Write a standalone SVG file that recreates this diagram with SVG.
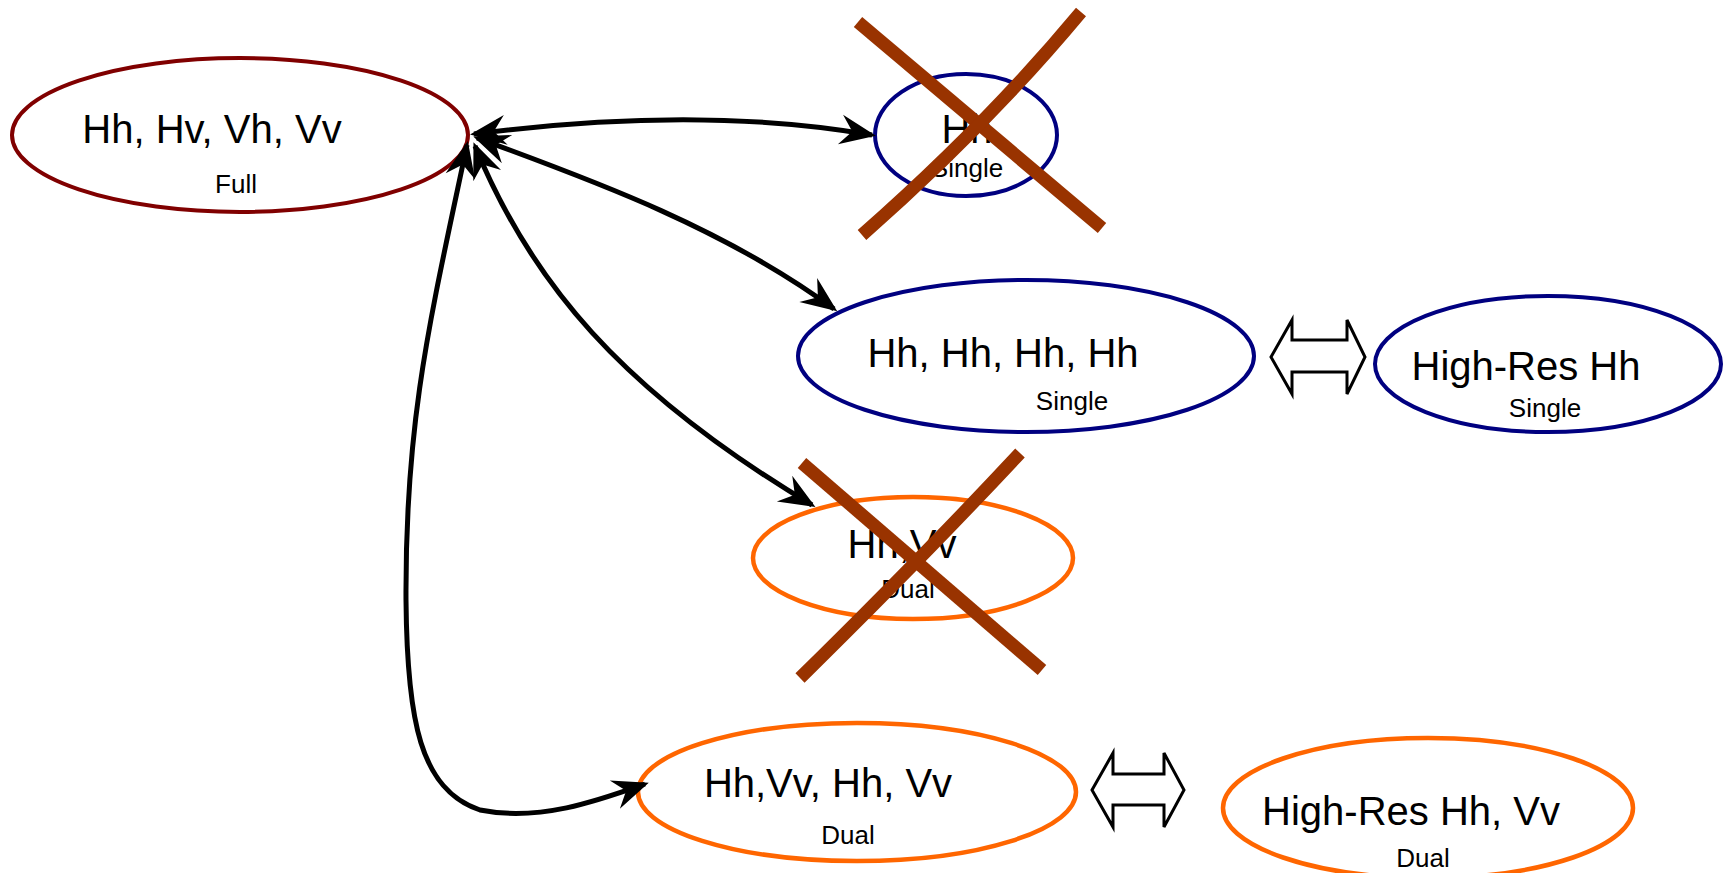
<svg xmlns="http://www.w3.org/2000/svg" width="1724" height="873" viewBox="0 0 1724 873">
<style>
  .node { fill: #ffffff; stroke-width: 4; }
  .full { stroke: #800000; }
  .single { stroke: #000080; }
  .dual { stroke: #FF6600; stroke-width: 4.5; }
  .main { font-family: "Liberation Sans", Arial, sans-serif; font-size: 40px; fill: #000; text-anchor: middle; }
  .sub { font-family: "Liberation Sans", Arial, sans-serif; font-size: 26px; fill: #000; text-anchor: middle; }
  .conn { fill: none; stroke: #000; stroke-width: 5; }
  .cross { fill: none; stroke: #993300; stroke-width: 13; }
  .dbl { fill: #ffffff; stroke: #000; stroke-width: 3; stroke-linejoin: miter; }
</style>
<defs>
  <marker id="arr" markerUnits="userSpaceOnUse" orient="auto-start-reverse" markerWidth="44" markerHeight="40" viewBox="-36 -18 44 36" refX="0" refY="0">
    <path d="M4,0 L-32,-15 L-20,0 L-32,15 Z" fill="#000"/>
  </marker>
</defs>
<rect width="1724" height="873" fill="#ffffff"/>

<g id="node-full">
  <ellipse class="node full" cx="240" cy="135" rx="228" ry="77"/>
  <text class="main" x="212" y="143">Hh, Hv, Vh, Vv</text>
  <text class="sub" x="236" y="193">Full</text>
</g>

<g id="node-hh-single">
  <ellipse class="node single" cx="966" cy="135" rx="91" ry="61"/>
  <text class="main" x="967" y="143">Hh</text>
  <text class="sub" x="967" y="177">Single</text>
</g>

<g id="node-hh4-single">
  <ellipse class="node single" cx="1026" cy="356" rx="228" ry="76"/>
  <text class="main" x="1003" y="367">Hh, Hh, Hh, Hh</text>
  <text class="sub" x="1072" y="410">Single</text>
</g>

<g id="node-highres-hh">
  <ellipse class="node single" cx="1548" cy="364" rx="173" ry="68"/>
  <text class="main" x="1526" y="380">High-Res Hh</text>
  <text class="sub" x="1545" y="417">Single</text>
</g>

<g id="node-hhvv-dual">
  <ellipse class="node dual" cx="913" cy="558" rx="160" ry="61"/>
  <text class="main" x="902" y="558">Hh,Vv</text>
  <text class="sub" x="908" y="598">Dual</text>
</g>

<g id="node-hhvv2-dual">
  <ellipse class="node dual" cx="857" cy="792" rx="219" ry="69"/>
  <text class="main" x="828" y="797">Hh,Vv, Hh, Vv</text>
  <text class="sub" x="848" y="844">Dual</text>
</g>

<g id="node-highres-hhvv">
  <ellipse class="node dual" cx="1428" cy="808" rx="205" ry="70"/>
  <text class="main" x="1411" y="825">High-Res Hh, Vv</text>
  <text class="sub" x="1423" y="867">Dual</text>
</g>

<g id="connectors">
  <path class="conn" d="M474,134 Q700,105 872,135" marker-start="url(#arr)" marker-end="url(#arr)"/>
  <path class="conn" d="M477,138 C580,176 720,225 834,309" marker-start="url(#arr)" marker-end="url(#arr)"/>
  <path class="conn" d="M475,146 C530,280 620,390 812,505" marker-start="url(#arr)" marker-end="url(#arr)"/>
  <path class="conn" d="M467,145 C430,320 405,420 406,600 C407,720 420,790 480,810 C540,822 600,800 645,784" marker-start="url(#arr)" marker-end="url(#arr)"/>
  <polygon class="dbl" points="1271,357 1292,320 1292,340 1347,340 1347,320 1365,357 1347,394 1347,372 1292,372 1292,394"/>
  <polygon class="dbl" points="1092,790 1113,753 1113,774 1164,774 1164,753 1184,790 1164,827 1164,805 1113,805 1113,827"/>
</g>

<g id="cross-hh-single">
  <path class="cross" d="M858,22 L1102,228"/>
  <path class="cross" d="M1081,12 Q987,125 862,235"/>
</g>

<g id="cross-hhvv-dual">
  <path class="cross" d="M802,463 L1042,670"/>
  <path class="cross" d="M1020,453 Q923,557 800,678"/>
</g>
</svg>
